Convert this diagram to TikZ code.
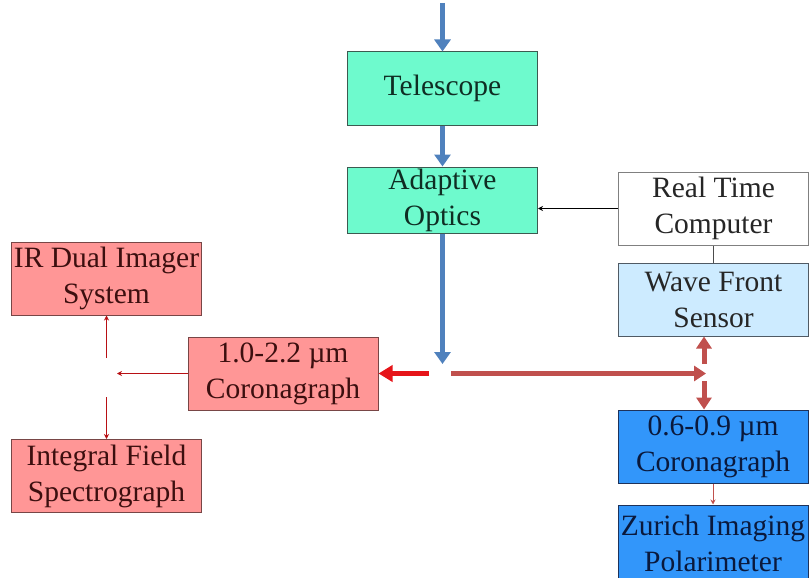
\documentclass[tikz,border=0pt]{standalone}
\usepackage{fontspec}
\setmainfont{Liberation Serif}
\usetikzlibrary{arrows.meta}
\definecolor{aquafill}{RGB}{110,250,205}
\definecolor{aquadraw}{RGB}{60,90,80}
\definecolor{aquatext}{RGB}{15,45,35}
\definecolor{pinkfill}{RGB}{255,150,150}
\definecolor{pinkdraw}{RGB}{120,70,70}
\definecolor{pinktext}{RGB}{60,15,15}
\definecolor{lbfill}{RGB}{205,235,255}
\definecolor{lbdraw}{RGB}{80,90,100}
\definecolor{bfill}{RGB}{50,150,250}
\definecolor{bdraw}{RGB}{30,50,90}
\definecolor{btext}{RGB}{10,25,60}
\definecolor{arrblue}{RGB}{79,129,189}
\definecolor{arrdred}{RGB}{192,80,77}
\definecolor{arrred}{RGB}{230,20,25}
\begin{document}
\begin{tikzpicture}[x=1pt,y=-1pt,
  box/.style={line width=1pt, minimum width=190pt, minimum height=73pt, inner sep=0pt, align=center, font=\fontsize{29.5}{36}\selectfont},
  telbox/.style={box, draw=aquadraw, fill=aquafill, text=aquatext},
  whitebox/.style={box, draw=gray, fill=white, text=black!85},
  wfsbox/.style={box, draw=lbdraw, fill=lbfill, text=black!85},
  visbox/.style={box, draw=bdraw, fill=bfill, text=btext},
  irbox/.style={box, draw=pinkdraw, fill=pinkfill, text=pinktext},
  bluearr/.style={draw=arrblue, line width=5.5pt, -{Triangle[width=16pt,length=12pt]}},
  dredarr/.style={draw=arrdred, line width=5pt, -{Triangle[width=15pt,length=12pt]}},
  redarr/.style={draw=arrred, line width=5pt, -{Triangle[width=16pt,length=14pt]}},
  thinarr/.style={draw=black, line width=0.8pt, -{Stealth[width=5pt,length=5pt]}},
  thinred/.style={draw=arrred!80!black, line width=0.8pt, -{Stealth[width=5pt,length=5pt]}},
  thinbrown/.style={draw=arrdred, line width=0.8pt, -{Stealth[width=5pt,length=5pt]}}
]
\useasboundingbox (0,0) rectangle (809,578);
\node[telbox] (tel) at (442.5,88.5) {Telescope};
\node[telbox, minimum height=66pt] (ao) at (442.5,200) {Adaptive\\Optics};
\node[whitebox] (rtc) at (713.5,208.5) {Real Time\\Computer};
\node[wfsbox] (wfs) at (713.5,299.5) {Wave Front\\Sensor};
\node[visbox] (cv) at (713,446.5) {0.6-0.9 µm\\Coronagraph};
\node[visbox, minimum height=77pt] (zim) at (713,543.5) {Zurich Imaging\\Polarimeter};
\node[irbox] (cir) at (283,373.5) {1.0-2.2 µm\\Coronagraph};
\node[irbox] (ird) at (106.5,278.5) {IR Dual Imager\\System};
\node[irbox] (ifs) at (106.5,476) {Integral Field\\Spectrograph};
\coordinate (top) at (442.5,3);
\coordinate (split) at (442.5,364);
\coordinate (hl) at (429,373.5);
\coordinate (hr) at (451,373.5);
\coordinate (hend) at (706,373.5);
\coordinate (up0) at (704,364);
\coordinate (dn0) at (704,381);
\coordinate (lsplit) at (117,373.5);
\coordinate (irfrom) at (106.5,358);
\coordinate (ifsfrom) at (106.5,397);
\draw[bluearr] (top) -- (tel.north);
\draw[bluearr] (tel.south) -- (ao.north);
\draw[bluearr] (ao.south) -- (split);
\draw[thinarr] (rtc.west) -- (rtc.west -| ao.east);
\draw[draw=black!70, line width=0.8pt] (rtc.south) -- (wfs.north);
\draw[redarr] (hl) -- (cir.east);
\draw[dredarr] (hr) -- (hend);
\draw[dredarr] (up0) -- (up0 |- wfs.south);
\draw[dredarr] (dn0) -- (dn0 |- cv.north);
\draw[thinred] (cir.west) -- (lsplit);
\draw[thinred] (irfrom) -- (irfrom |- ird.south);
\draw[thinred] (ifsfrom) -- (ifsfrom |- ifs.north);
\draw[thinbrown] (cv.south) -- (zim.north);
\end{tikzpicture}
\end{document}
